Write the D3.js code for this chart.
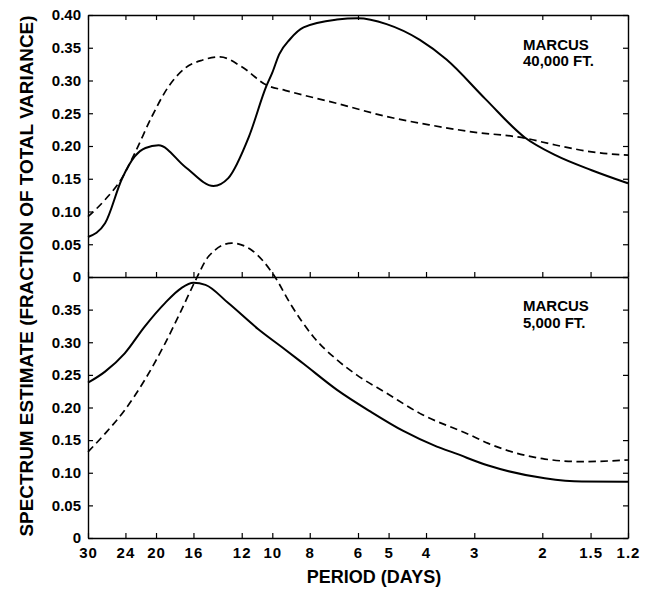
<!DOCTYPE html>
<html>
<head>
<meta charset="utf-8">
<script src="https://cdn.jsdelivr.net/npm/d3@7"></script>
<style>
  body { margin: 0; background: #fff; }
  svg text { font-family: "Liberation Sans", Arial, sans-serif; font-weight: bold; fill: #000; }
</style>
</head>
<body>
<svg id="chart" width="651" height="593"></svg>
<script>
// ── data (period in days, spectrum estimate) ──
const periodTicks = [30, 24, 20, 16, 12, 10, 8, 6, 5, 4, 3, 2, 1.5, 1.2];
const yTicks = [0, 0.05, 0.10, 0.15, 0.20, 0.25, 0.30, 0.35, 0.40];

// Marcus 40,000 ft
const top40SolidP = [30, 27.1, 24.5, 22.7, 21.3, 19.7, 16.8, 14.2, 13.0, 11.5, 10.35, 10.0, 9.6, 9.0, 8.3, 6.8, 6.0, 5.06, 4.15, 3.54, 2.81, 2.22, 1.85, 1.49, 1.2];
const top40SolidV = [0.061, 0.082, 0.150, 0.184, 0.197, 0.201, 0.168, 0.139, 0.151, 0.214, 0.292, 0.312, 0.340, 0.363, 0.381, 0.393, 0.395, 0.386, 0.362, 0.332, 0.272, 0.213, 0.186, 0.163, 0.143];
const top40DashP  = [30, 27.1, 24.5, 22.7, 20.5, 18.6, 16.8, 15.2, 13.66, 12, 10.35, 9.27, 6.8, 5.06, 3.9, 3.08, 2.22, 1.85, 1.49, 1.2];
const top40DashV  = [0.092, 0.118, 0.151, 0.189, 0.245, 0.290, 0.319, 0.331, 0.336, 0.321, 0.293, 0.285, 0.265, 0.245, 0.232, 0.222, 0.212, 0.2015, 0.191, 0.186];

// Marcus 5,000 ft
const bot5SolidP = [30, 27.1, 24.1, 21.4, 18.96, 17.2, 16.0, 14.9, 13.0, 10.87, 9.27, 8.3, 6.8, 5.58, 4.58, 3.75, 3.37, 2.76, 1.97, 1.58, 1.2];
const bot5SolidV = [0.238, 0.255, 0.283, 0.324, 0.360, 0.383, 0.391, 0.388, 0.360, 0.320, 0.289, 0.267, 0.227, 0.194, 0.164, 0.140, 0.130, 0.111, 0.0915, 0.0865, 0.0863];
const bot5DashP  = [30, 27.1, 24.1, 21.4, 18.96, 17.2, 15.8, 14.65, 12.74, 11.3, 9.84, 9.0, 7.83, 6.8, 6.05, 5.06, 4.15, 3.08, 2.76, 1.97, 1.58, 1.2];
const bot5DashV  = [0.132, 0.160, 0.196, 0.242, 0.298, 0.349, 0.395, 0.431, 0.452, 0.441, 0.400, 0.360, 0.3085, 0.273, 0.250, 0.222, 0.191, 0.158, 0.145, 0.121, 0.117, 0.1195];

// ── layout ──
const L = 88, R = 628, T = 15, MID = 277, B = 538;
const svg = d3.select('#chart');

const x = d3.scaleLog().domain([30, 1.2]).range([L, R]);
const yTop = d3.scaleLinear().domain([0, 0.4]).range([MID, T]);
const yBot = d3.scaleLinear().domain([0, 0.4]).range([B, MID]);

const fmtY = d => d === 0 ? '0' : d3.format('.2f')(d);
const zip = (ps, vs) => ps.map((p, i) => ({ p, v: vs[i] }));

// ── axes ──
function styleAxis(g) {
  g.selectAll('path.domain').attr('stroke', '#000').attr('stroke-width', 1.4);
  g.selectAll('.tick line').attr('stroke', '#000').attr('stroke-width', 1.2);
}

// left: top panel (all labels), bottom panel (0..0.35)
svg.append('g').attr('transform', `translate(${L},0)`)
  .call(d3.axisLeft(yTop).tickValues(yTicks).tickFormat(fmtY).tickSize(-5).tickSizeOuter(0).tickPadding(7))
  .call(styleAxis)
  .selectAll('text').style('font-size', '15px').attr('font-family', null);

svg.append('g').attr('transform', `translate(${L},0)`)
  .call(d3.axisLeft(yBot).tickValues(yTicks).tickFormat(d => d >= 0.4 ? '' : fmtY(d)).tickSize(-5).tickSizeOuter(0).tickPadding(7))
  .call(styleAxis)
  .selectAll('text').style('font-size', '15px').attr('font-family', null);

// right side, ticks only
[yTop, yBot].forEach(y => {
  svg.append('g').attr('transform', `translate(${R},0)`)
    .call(d3.axisRight(y).tickValues(yTicks).tickFormat('').tickSize(-5).tickSizeOuter(0))
    .call(styleAxis);
});

// top border and middle line (ticks only)
svg.append('g').attr('transform', `translate(0,${T})`)
  .call(d3.axisTop(x).tickValues(periodTicks).tickFormat('').tickSize(-5).tickSizeOuter(0))
  .call(styleAxis);
svg.append('g').attr('transform', `translate(0,${MID})`)
  .call(d3.axisBottom(x).tickValues(periodTicks).tickFormat('').tickSize(-5).tickSizeOuter(0))
  .call(styleAxis);

// bottom axis with period labels
svg.append('g').attr('transform', `translate(0,${B})`)
  .call(d3.axisBottom(x).tickValues(periodTicks).tickFormat(d => String(d)).tickSize(-5).tickSizeOuter(0).tickPadding(9))
  .call(styleAxis)
  .selectAll('text').style('font-size', '15px').style('letter-spacing', '1px').attr('font-family', null);

// ── curves ──
function drawCurve(data, y, dashed) {
  const line = d3.line()
    .x(d => x(d.p))
    .y(d => y(d.v))
    .curve(d3.curveMonotoneX);
  svg.append('path')
    .datum(data)
    .attr('d', line)
    .attr('fill', 'none')
    .attr('stroke', '#000')
    .attr('stroke-width', dashed ? 1.7 : 2)
    .attr('stroke-dasharray', dashed ? '7.5,4.5' : null);
}
drawCurve(zip(top40DashP, top40DashV), yTop, true);
drawCurve(zip(top40SolidP, top40SolidV), yTop, false);
drawCurve(zip(bot5DashP, bot5DashV), yBot, true);
drawCurve(zip(bot5SolidP, bot5SolidV), yBot, false);

// ── texts ──
const lab1 = svg.append('text').style('font-size', '15px');
lab1.append('tspan').attr('x', 523).attr('y', 50).text('MARCUS');
lab1.append('tspan').attr('x', 523).attr('y', 66).text('40,000 FT.');

const lab2 = svg.append('text').style('font-size', '15px');
lab2.append('tspan').attr('x', 523).attr('y', 311).text('MARCUS');
lab2.append('tspan').attr('x', 523).attr('y', 328).text('5,000 FT.');

svg.append('text')
  .attr('x', 374).attr('y', 583)
  .attr('text-anchor', 'middle')
  .style('font-size', '18px')
  .text('PERIOD (DAYS)');

svg.append('text')
  .attr('transform', 'translate(33,276) rotate(-90)')
  .attr('text-anchor', 'middle')
  .attr('textLength', 521)
  .attr('lengthAdjust', 'spacingAndGlyphs')
  .style('font-size', '17.5px')
  .text('SPECTRUM ESTIMATE (FRACTION OF TOTAL VARIANCE)');
</script>
</body>
</html>
